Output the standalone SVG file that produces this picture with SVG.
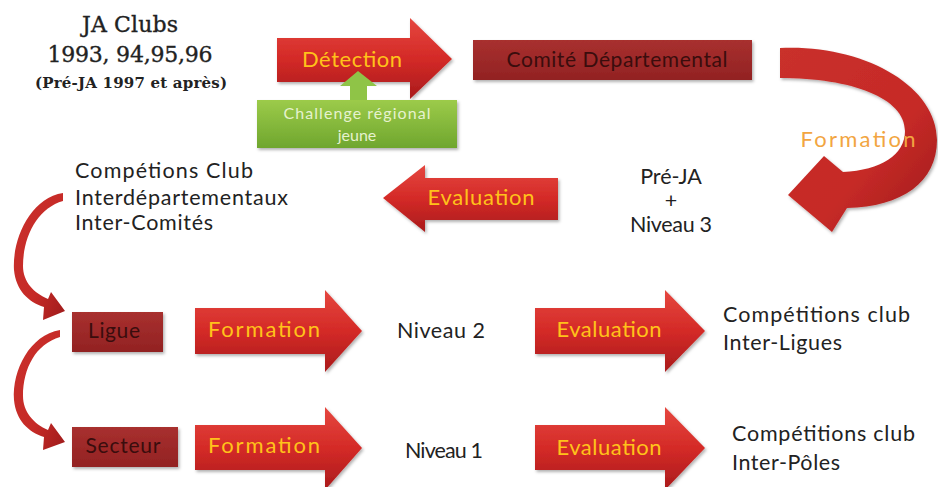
<svg xmlns="http://www.w3.org/2000/svg" width="938" height="487" viewBox="0 0 938 487">
<defs>
<linearGradient id="red" x1="0" y1="0" x2="0" y2="1">
<stop offset="0" stop-color="#e5473f"/>
<stop offset="0.5" stop-color="#d42a27"/>
<stop offset="1" stop-color="#a91b1c"/>
</linearGradient>
<linearGradient id="redc" x1="0" y1="0" x2="1" y2="1">
<stop offset="0" stop-color="#c9302b"/>
<stop offset="0.6" stop-color="#c62a27"/>
<stop offset="1" stop-color="#9e1b1b"/>
</linearGradient>
<linearGradient id="box" x1="0" y1="0" x2="0" y2="1">
<stop offset="0" stop-color="#a8302f"/>
<stop offset="1" stop-color="#922222"/>
</linearGradient>
<linearGradient id="green" x1="0" y1="0" x2="0" y2="1">
<stop offset="0" stop-color="#9ccb4a"/>
<stop offset="1" stop-color="#6fa62e"/>
</linearGradient>
<filter id="sh" x="-10%" y="-10%" width="125%" height="130%">
<feDropShadow dx="1.5" dy="2" stdDeviation="1.5" flood-color="#000" flood-opacity="0.3"/>
</filter>
</defs>
<style>
.arr{fill:url(#red);filter:url(#sh)}
.box{fill:url(#box);filter:url(#sh)}
.lab{font-family:Lato,"Open Sans",sans-serif;font-size:22px;fill:#ffc21a}
.dk{font-family:Lato,"Open Sans",sans-serif;font-size:21px;fill:#3a0d0d}
.tx{font-family:Lato,"Open Sans",sans-serif;font-size:21.5px;fill:#222}
.sl{font-family:"DejaVu Serif",serif;fill:#222;stroke:#222;stroke-width:0.35}
</style>
<rect width="938" height="487" fill="#fff"/>

<g id="ja-clubs">
<text class="sl" x="130" y="32" font-size="22" text-anchor="middle" textLength="96">JA Clubs</text>
<text class="sl" x="130" y="62" font-size="22" text-anchor="middle" textLength="165">1993, 94,95,96</text>
<text class="sl" x="131" y="88" font-size="15" font-weight="bold" style="stroke-width:0" text-anchor="middle" textLength="192">(Pré-JA 1997 et après)</text>
</g>

<g id="connectors">
<path id="detection-arrow" class="arr" d="M277,38 L410,38 L410,18 L452,59 L410,99 L410,82 L277,82 Z"/>
<path id="formation-curve" fill="url(#redc)" filter="url(#sh)" d="M780,48 C862,44 937,85 937,140 C937,182 902,207 847,208 L832,232 L788,195 L824,156 L843,172 C881,170 905,155 905,131 C905,98 852,78 780,78 Z"/>
<path id="evaluation-arrow-2" class="arr" d="M558,178 L425,178 L425,165 L383,198 L425,232 L425,220 L558,220 Z"/>
<path id="formation-arrow-3" class="arr" d="M195,308 L325,308 L325,290 L362,331 L325,372 L325,354 L195,354 Z"/>
<path id="evaluation-arrow-3" class="arr" d="M535,308 L665,308 L665,290 L705,331 L665,372 L665,354 L535,354 Z"/>
<path id="formation-arrow-4" class="arr" d="M195,425 L325,425 L325,407 L362,448 L325,490 L325,470 L195,470 Z"/>
<path id="evaluation-arrow-4" class="arr" d="M535,425 L665,425 L665,407 L705,448 L665,490 L665,470 L535,470 Z"/>
<path id="curve-to-ligue" fill="url(#redc)" d="M63,193 C30,198 12,240 14,270 C16,290 28,302 44,307 L43,320 L65,311 L51,292 L48,299 C34,293 23,282 23,266 C23,236 38,208 63,201 Z"/>
<path id="curve-to-secteur" fill="url(#redc)" d="M60,330 C30,335 12,370 14,400 C16,420 28,432 44,437 L43,450 L65,442 L51,423 L48,430 C34,424 23,412 23,396 C23,368 36,344 60,337 Z"/>
</g>

<g id="detection-label">
<text class="lab" x="352" y="67" text-anchor="middle" textLength="100">Détection</text>
</g>

<g id="challenge">
<rect x="257" y="100" width="200" height="48" fill="url(#green)" filter="url(#sh)"/>
<path d="M350,100 L350,86 L340,86 L358,71 L377,86 L367,86 L367,100 Z" fill="#8fc447"/>
<text x="357" y="119" text-anchor="middle" font-family="Lato,'Open Sans',sans-serif" font-size="16" fill="#e6f2cf" textLength="147">Challenge régional</text>
<text x="357" y="141" text-anchor="middle" font-family="Lato,'Open Sans',sans-serif" font-size="16" fill="#e6f2cf">jeune</text>
</g>

<g id="comite">
<rect class="box" x="473" y="40" width="279" height="40"/>
<text class="dk" x="617" y="67" text-anchor="middle" textLength="221">Comité Départemental</text>
</g>

<g id="formation-label-1">
<text class="lab" x="858" y="147" text-anchor="middle" style="fill:#f2a541" textLength="115">Formation</text>
</g>

<g id="pre-ja">
<text class="tx" x="671" y="184" text-anchor="middle">Pré-JA</text>
<text class="tx" x="671" y="208" text-anchor="middle">+</text>
<text class="tx" x="671" y="232" text-anchor="middle" textLength="82">Niveau 3</text>
</g>

<g id="evaluation-label-2">
<text class="lab" x="481" y="205" text-anchor="middle" textLength="107">Evaluation</text>
</g>

<g id="competitions-1">
<text class="tx" x="75" y="178" textLength="178">Compétions Club</text>
<text class="tx" x="75" y="205" textLength="213">Interdépartementaux</text>
<text class="tx" x="75" y="230" textLength="138">Inter-Comités</text>
</g>

<g id="ligue">
<rect class="box" x="72" y="312" width="91" height="40"/>
<text class="dk" x="114" y="338" text-anchor="middle" textLength="52">Ligue</text>
</g>

<g id="secteur">
<rect class="box" x="72" y="427" width="106" height="40"/>
<text class="dk" x="123" y="453" text-anchor="middle" textLength="75">Secteur</text>
</g>

<g id="formation-label-3">
<text class="lab" x="264" y="337" text-anchor="middle" textLength="112">Formation</text>
</g>
<g id="formation-label-4">
<text class="lab" x="264" y="453" text-anchor="middle" textLength="112">Formation</text>
</g>

<g id="niveau-2">
<text class="tx" x="397" y="338" textLength="88">Niveau 2</text>
</g>
<g id="niveau-1">
<text class="tx" x="405" y="458" textLength="78">Niveau 1</text>
</g>

<g id="evaluation-label-3">
<text class="lab" x="609" y="337" text-anchor="middle" textLength="105">Evaluation</text>
</g>
<g id="evaluation-label-4">
<text class="lab" x="609" y="455" text-anchor="middle" textLength="105">Evaluation</text>
</g>

<g id="inter-ligues">
<text class="tx" x="723" y="322" textLength="187">Compétitions club</text>
<text class="tx" x="723" y="350" textLength="119">Inter-Ligues</text>
</g>
<g id="inter-poles">
<text class="tx" x="732" y="441" textLength="183">Compétitions club</text>
<text class="tx" x="732" y="470" textLength="108">Inter-Pôles</text>
</g>
</svg>
